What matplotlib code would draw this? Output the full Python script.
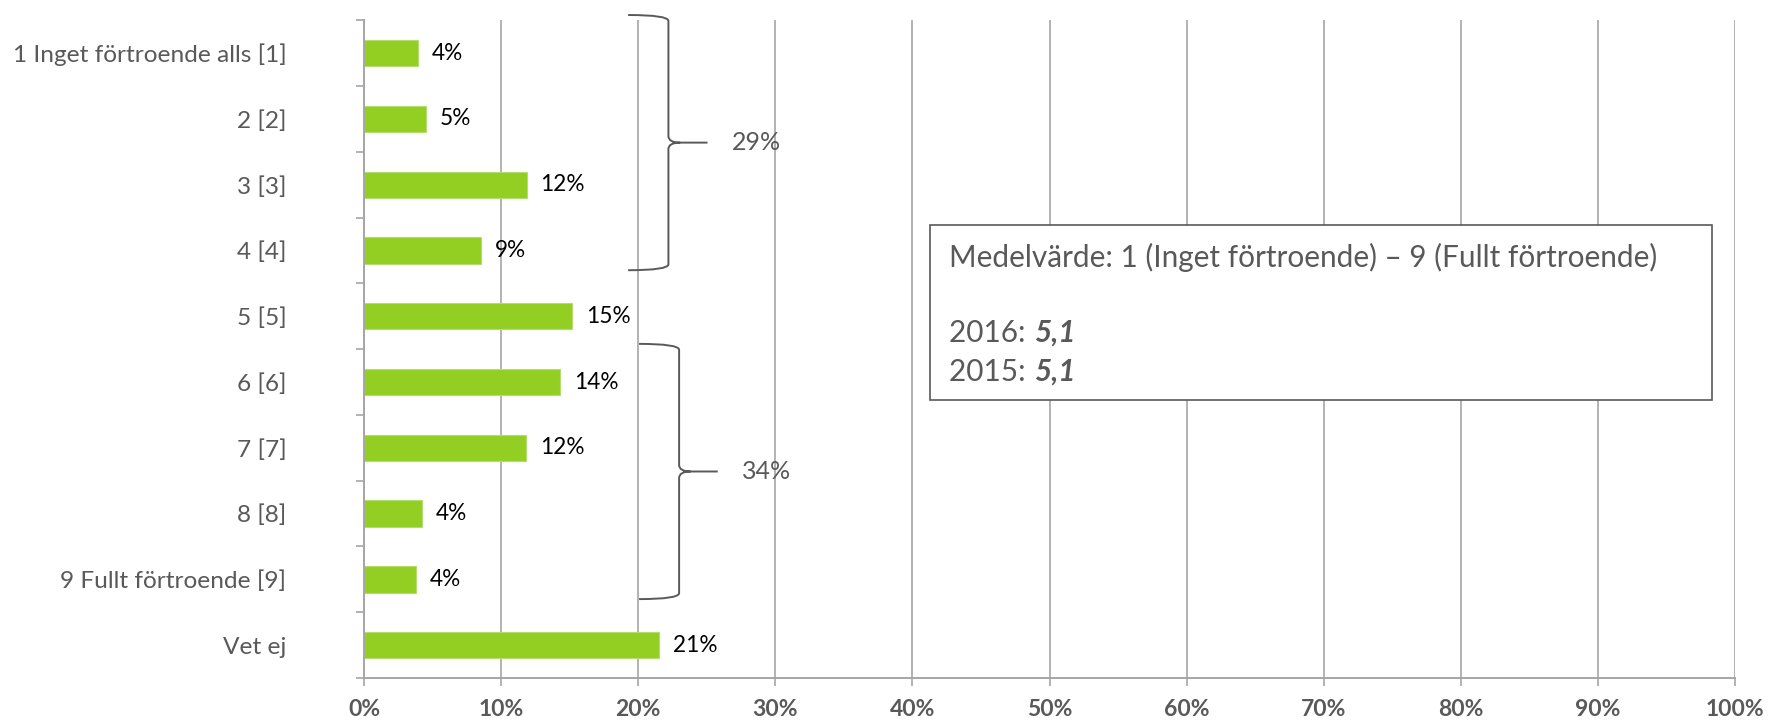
import matplotlib
matplotlib.use("Agg")
import matplotlib.pyplot as plt
from matplotlib.path import Path
from matplotlib.patches import PathPatch, Rectangle

plt.rcParams['font.family'] = ['Lato', 'DejaVu Sans']

# data
categories = ["1 Inget förtroende alls [1]", "2 [2]", "3 [3]", "4 [4]", "5 [5]",
              "6 [6]", "7 [7]", "8 [8]", "9 Fullt förtroende [9]", "Vet ej"]
values = [3.95, 4.5, 11.85, 8.5, 15.2, 14.3, 11.8, 4.2, 3.8, 21.5]
value_labels = ["4%", "5%", "12%", "9%", "15%", "14%", "12%", "4%", "4%", "21%"]
x_ticks = list(range(0, 101, 10))
x_tick_labels = [f"{t}%" for t in x_ticks]

# groups summed by the braces: first row, last row, label
brace_groups = [(0, 3, "29%"), (5, 8, "34%")]
# brace x positions (tips, spine, point) in axis units
brace_x = [(19.26, 22.2, 25.05), (20.06, 22.98, 25.8)]

mean_title = "Medelvärde: 1 (Inget förtroende) – 9 (Fullt förtroende)"
mean_years = ["2016", "2015"]
mean_values = ["5,1", "5,1"]

GRAY = "#595959"
GRID = "#A6A6A6"
GREEN = "#93CF22"

fig = plt.figure(figsize=(17.69, 7.24), dpi=100)
ax = fig.add_axes([0.2058, 0.0635, 0.775, 0.9085])

y = list(range(len(categories)))
bars = ax.barh(y, values, height=0.4, color=GREEN, edgecolor="#B5DC6E",
               linewidth=0.8, zorder=2)

for yi, v, lab in zip(y, values, value_labels):
    ax.annotate(lab, xy=(v, yi), xytext=(10, 0), textcoords="offset points",
                va="center", ha="left", fontsize=16.3, color="black", zorder=4)

ax.set_xlim(0, 100)
ax.set_ylim(len(categories) - 0.5, -0.5)
ax.set_xticks(x_ticks)
ax.set_xticklabels(x_tick_labels, fontsize=16.5, fontweight="bold", color=GRAY)
ax.set_yticks(y)
ax.set_yticklabels(categories, fontsize=17.6, color=GRAY)
ax.set_yticks([i - 0.5 for i in range(len(categories) + 1)], minor=True)

ax.tick_params(axis="y", which="major", length=0, pad=56)
ax.tick_params(axis="y", which="minor", length=5.5, width=1.2, color=GRID, direction="out")
ax.tick_params(axis="x", which="major", length=6, width=1.2, color=GRID, pad=9)

ax.grid(axis="x", color=GRID, linewidth=1.2, zorder=0)
ax.set_axisbelow(True)
for s in ["top", "right"]:
    ax.spines[s].set_visible(False)
for s in ["left", "bottom"]:
    ax.spines[s].set_color(GRID)
    ax.spines[s].set_linewidth(1.4)


def draw_brace(ax, x0, x1, x2, ytop, ybot, c=0.09, m=0.1):
    ymid = (ytop + ybot) / 2
    xm = x1 + (x2 - x1) * 0.3
    verts = [(x0, ytop), (x1, ytop), (x1, ytop + c),
             (x1, ymid - m),
             (x1, ymid), (xm, ymid),
             (x2, ymid),
             (xm, ymid),
             (x1, ymid), (x1, ymid + m),
             (x1, ybot - c),
             (x1, ybot), (x0, ybot)]
    codes = [Path.MOVETO, Path.CURVE3, Path.CURVE3,
             Path.LINETO,
             Path.CURVE3, Path.CURVE3,
             Path.LINETO,
             Path.MOVETO,
             Path.CURVE3, Path.CURVE3,
             Path.LINETO,
             Path.CURVE3, Path.CURVE3]
    ax.add_patch(PathPatch(Path(verts, codes), facecolor="none", edgecolor=GRAY,
                           linewidth=1.4, zorder=5, clip_on=False))
    return ymid


for (first, last, lab), (x0, x1, x2) in zip(brace_groups, brace_x):
    ymid = draw_brace(ax, x0, x1, x2, first - 0.58, last + 0.3)
    ax.text(x2 + 1.75, ymid, lab, ha="left", va="center", fontsize=18,
            color=GRAY, zorder=5)

# mean value box
ax.add_patch(Rectangle((41.25, 2.62), 98.3 - 41.25, 5.28 - 2.62, facecolor="white",
                       edgecolor=GRAY, linewidth=1.2, zorder=3))
ax.text(42.7, 3.1, mean_title, ha="left", va="center", fontsize=21.4, color=GRAY, zorder=4)
for i, (yr, mv) in enumerate(zip(mean_years, mean_values)):
    t = ax.text(42.7, 4.25 + i * 0.59, f"{yr}: ", ha="left", va="center",
                fontsize=21.4, color=GRAY, zorder=4)
    ax.annotate(mv, xy=(1, 0), xycoords=t, ha="left", va="bottom", fontsize=21.4,
                fontweight="bold", fontstyle="italic", color=GRAY, zorder=4)

fig.savefig("out.png", dpi=100)
